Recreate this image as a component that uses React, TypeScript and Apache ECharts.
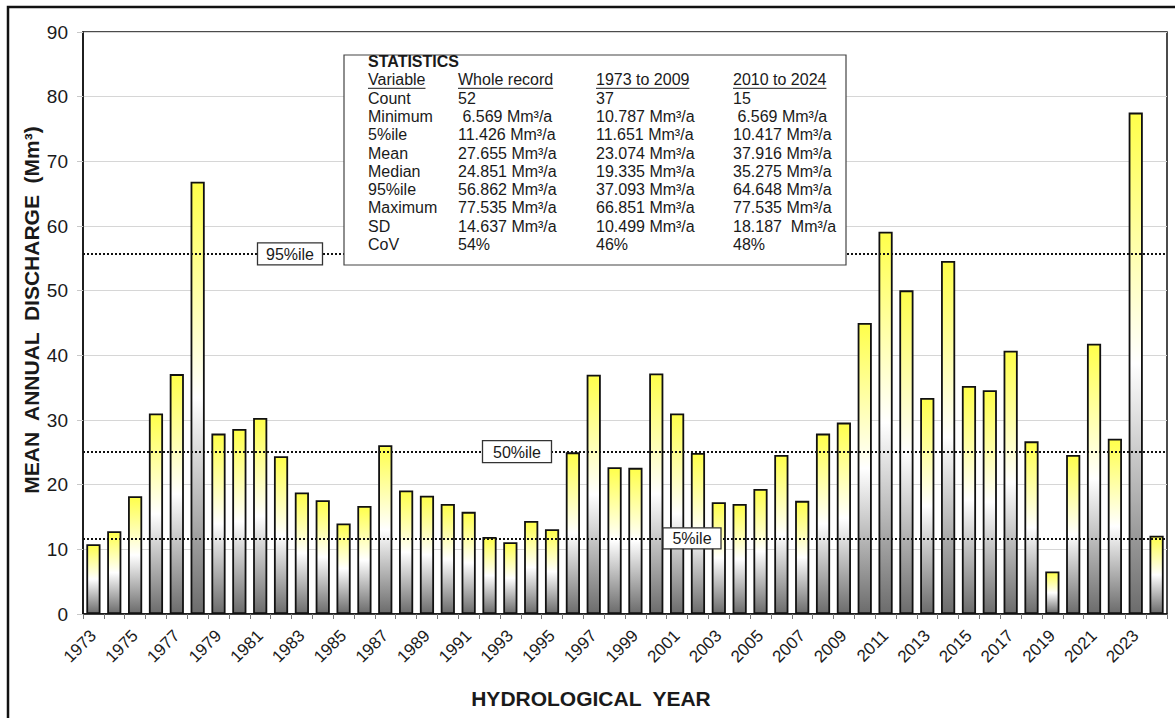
import React, { useEffect, useRef } from "react";
import * as echarts from "echarts";

const FONT = "'Liberation Sans', Arial, Helvetica, sans-serif";

const years = [
  "1973", "1974", "1975", "1976", "1977", "1978", "1979", "1980", "1981", "1982",
  "1983", "1984", "1985", "1986", "1987", "1988", "1989", "1990", "1991", "1992",
  "1993", "1994", "1995", "1996", "1997", "1998", "1999", "2000", "2001", "2002",
  "2003", "2004", "2005", "2006", "2007", "2008", "2009", "2010", "2011", "2012",
  "2013", "2014", "2015", "2016", "2017", "2018", "2019", "2020", "2021", "2022",
  "2023", "2024",
];

const discharge = [
  10.787, 12.8, 18.2, 31.0, 37.1, 66.851, 27.9, 28.6, 30.3, 24.4,
  18.8, 17.6, 14.0, 16.7, 26.1, 19.1, 18.3, 17.0, 15.8, 11.9,
  11.1, 14.4, 13.1, 25.0, 37.0, 22.7, 22.6, 37.2, 31.0, 24.9,
  17.3, 17.0, 19.335, 24.6, 17.5, 27.9, 29.6, 45.0, 59.1, 50.05,
  33.4, 54.6, 35.275, 34.6, 40.7, 26.7, 6.569, 24.6, 41.8, 27.1,
  77.535, 12.1,
];

const percentileNames = ["95%ile", "50%ile", "5%ile"];
const percentileLines = [55.7, 25.1, 11.7];

const statTitle = "STATISTICS";
const statHeaders = ["Variable", "Whole record", "1973 to 2009", "2010 to 2024"];
const statRows = ["Count", "Minimum", "5%ile", "Mean", "Median", "95%ile", "Maximum", "SD", "CoV"];
const statWhole = ["52", "\u00a06.569 Mm³/a", "11.426 Mm³/a", "27.655 Mm³/a", "24.851 Mm³/a", "56.862 Mm³/a", "77.535 Mm³/a", "14.637 Mm³/a", "54%"];
const statEarly = ["37", "10.787 Mm³/a", "11.651 Mm³/a", "23.074 Mm³/a", "19.335 Mm³/a", "37.093 Mm³/a", "66.851 Mm³/a", "10.499 Mm³/a", "46%"];
const statLate = ["15", "\u00a06.569 Mm³/a", "10.417 Mm³/a", "37.916 Mm³/a", "35.275 Mm³/a", "64.648 Mm³/a", "77.535 Mm³/a", "18.187\u00a0\u00a0Mm³/a", "48%"];

const yAxisTitle = "MEAN  ANNUAL  DISCHARGE  (Mm³)";
const xAxisTitle = "HYDROLOGICAL  YEAR";

// layout
const W = 1175;
const H = 718;
const GRID = { left: 83, right: 8, top: 32, bottom: 104 };
const STAT_BOX = { x: 344, y: 55, w: 502, h: 210 };
const STAT_COLS = [368, 458, 596, 733];
const STAT_ROW0 = 61.5;
const STAT_ROW_STEP = 18.3;
const PCT_BOX = [
  { cx: 290, w: 65, h: 22 },
  { cx: 517, w: 69, h: 22 },
  { cx: 692, w: 58, h: 21 },
];

function measure(text: string, font: string) {
  const c = document.createElement("canvas").getContext("2d");
  if (!c) return text.length * 8;
  c.font = font;
  return c.measureText(text).width;
}

export default function App() {
  const ref = useRef<HTMLDivElement>(null);

  useEffect(() => {
    if (!ref.current) return;
    const chart = echarts.init(ref.current, null, { renderer: "svg" });

    const gradient = new echarts.graphic.LinearGradient(0, 0, 0, 1, [
      { offset: 0, color: "#ffff4a" },
      { offset: 0.5, color: "#ffffff" },
      { offset: 1, color: "#6c6c6c" },
    ]);

    chart.setOption({
      animation: false,
      backgroundColor: "#ffffff",
      textStyle: { fontFamily: FONT },
      grid: {
        left: GRID.left,
        right: GRID.right,
        top: GRID.top,
        bottom: GRID.bottom,
        show: true,
        borderColor: "#111",
        borderWidth: 1.5,
        backgroundColor: "transparent",
      },
      xAxis: {
        type: "category",
        data: years,
        boundaryGap: true,
        axisLine: { lineStyle: { color: "#111", width: 1.5 } },
        axisTick: { show: true, interval: 0, length: 5, lineStyle: { color: "#777" } },
        axisLabel: { interval: 1, rotate: 45, fontSize: 17, color: "#1a1a1a", margin: 19, fontFamily: FONT },
        splitLine: { show: false },
      },
      yAxis: {
        type: "value",
        min: 0,
        max: 90,
        interval: 10,
        axisLine: { show: true, lineStyle: { color: "#111", width: 1.5 } },
        axisTick: { show: true, length: 6, lineStyle: { color: "#c8c8c8" } },
        axisLabel: { fontSize: 19, color: "#1a1a1a", margin: 15, fontFamily: FONT },
        splitLine: { show: true, lineStyle: { color: "#d6d6d6", width: 1 } },
      },
      series: [
        {
          type: "bar",
          data: discharge,
          barWidth: "68%",
          z: 2,
          itemStyle: { color: gradient, borderColor: "#111", borderWidth: 1.8 },
          markLine: {
            silent: true,
            symbol: "none",
            label: { show: false },
            lineStyle: { color: "#111", type: [2, 2], width: 2 },
            data: percentileLines.map((v) => ({ yAxis: v })),
          },
        },
      ],
    });

    const statFont = `16px ${FONT}`;
    const graphics: any[] = [];

    // outer frame
    graphics.push({
      type: "rect",
      z: 100,
      shape: { x: 8, y: 7, width: W + 40, height: H + 40 },
      style: { fill: "none", stroke: "#111", lineWidth: 2.5 },
    });

    // percentile label boxes
    percentileNames.forEach((name, i) => {
      const y = chart.convertToPixel({ yAxisIndex: 0 }, percentileLines[i]) as number;
      const b = PCT_BOX[i];
      graphics.push({
        type: "rect",
        z: 100,
        shape: { x: b.cx - b.w / 2, y: y - b.h / 2, width: b.w, height: b.h },
        style: { fill: "#fff", stroke: "#333", lineWidth: 1.3 },
      });
      graphics.push({
        type: "text",
        z: 101,
        x: b.cx,
        y: y + 0.5,
        style: {
          text: name,
          font: statFont,
          fill: "#1a1a1a",
          textAlign: "center",
          textVerticalAlign: "middle",
          align: "center",
          verticalAlign: "middle",
        },
      });
    });

    // statistics box
    graphics.push({
      type: "rect",
      z: 100,
      shape: { x: STAT_BOX.x, y: STAT_BOX.y, width: STAT_BOX.w, height: STAT_BOX.h },
      style: { fill: "#fff", stroke: "#444", lineWidth: 1.2 },
    });
    const addText = (text: string, x: number, y: number, bold = false) => {
      graphics.push({
        type: "text",
        z: 101,
        x,
        y,
        style: {
          text,
          font: `${bold ? "bold " : ""}16px ${FONT}`,
          fill: "#1a1a1a",
          textAlign: "left",
          textVerticalAlign: "middle",
          align: "left",
          verticalAlign: "middle",
        },
      });
    };
    addText(statTitle, STAT_COLS[0], STAT_ROW0, true);
    const headerY = STAT_ROW0 + STAT_ROW_STEP;
    statHeaders.forEach((h, c) => {
      addText(h, STAT_COLS[c], headerY);
      const w = measure(h, statFont);
      graphics.push({
        type: "line",
        z: 101,
        shape: { x1: STAT_COLS[c], y1: headerY + 8.5, x2: STAT_COLS[c] + w, y2: headerY + 8.5 },
        style: { stroke: "#1a1a1a", lineWidth: 1 },
      });
    });
    statRows.forEach((r, i) => {
      const y = STAT_ROW0 + STAT_ROW_STEP * (i + 2);
      addText(r, STAT_COLS[0], y);
      addText(statWhole[i], STAT_COLS[1], y);
      addText(statEarly[i], STAT_COLS[2], y);
      addText(statLate[i], STAT_COLS[3], y);
    });

    // axis titles
    graphics.push({
      type: "text",
      z: 101,
      x: 31,
      y: 310,
      rotation: Math.PI / 2,
      style: {
        text: yAxisTitle,
        font: `bold 21px ${FONT}`,
        fill: "#1a1a1a",
        textAlign: "center",
        textVerticalAlign: "middle",
        align: "center",
        verticalAlign: "middle",
      },
    });
    graphics.push({
      type: "text",
      z: 101,
      x: 591,
      y: 698,
      style: {
        text: xAxisTitle,
        font: `bold 21px ${FONT}`,
        fill: "#1a1a1a",
        textAlign: "center",
        textVerticalAlign: "middle",
        align: "center",
        verticalAlign: "middle",
      },
    });

    chart.setOption({ graphic: graphics });

    return () => chart.dispose();
  }, []);

  return (
    <div
      ref={ref}
      style={{ position: "absolute", left: 0, top: 0, width: W, height: H, background: "#fff" }}
    />
  );
}
